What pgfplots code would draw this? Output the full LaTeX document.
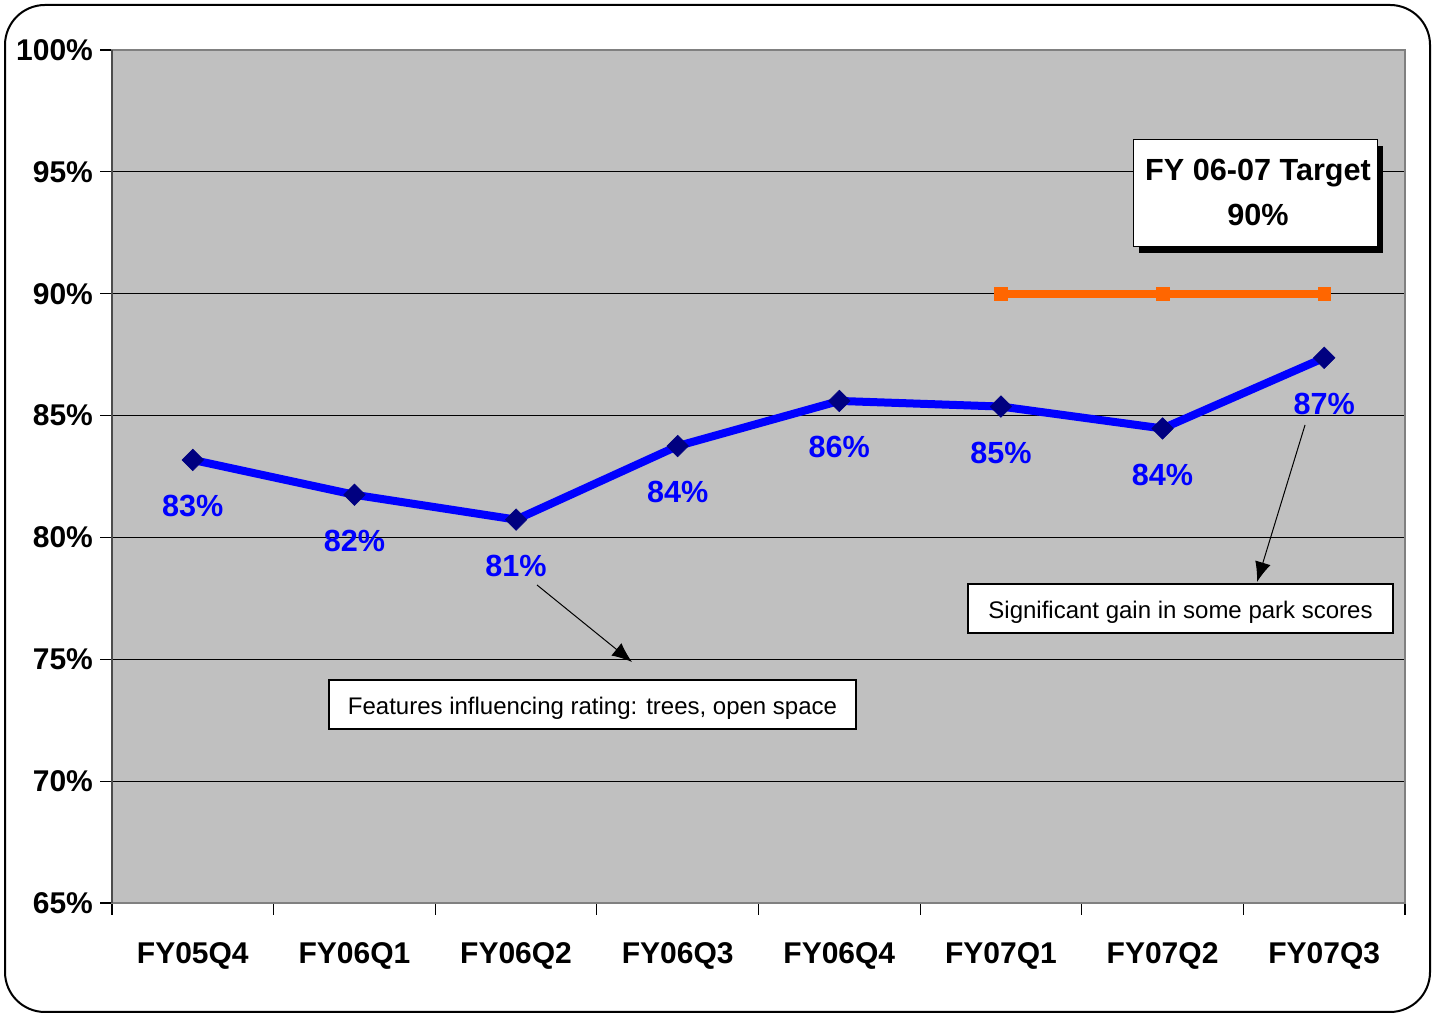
\documentclass[border=0pt]{standalone}
\usepackage{fontspec}
\setmainfont{Liberation Sans}
\usepackage{pgfplots}
\pgfplotsset{compat=1.18}
\usetikzlibrary{arrows.meta}
\definecolor{plotgray}{HTML}{C0C0C0}
\definecolor{serblue}{HTML}{0000FF}
\definecolor{navymark}{HTML}{000080}
\definecolor{targetorange}{HTML}{FF6600}

\begin{document}
\begin{tikzpicture}
\useasboundingbox (0,0) rectangle (716.5pt,507.5pt);
\draw[line width=1pt, rounded corners=20pt] (2.5pt,1.5pt) rectangle (715pt,505pt);
\begin{axis}[
  at={(56pt,56pt)}, anchor=south west,
  scale only axis, width=646.5pt, height=426.5pt,
  xmin=-0.5, xmax=7.5, ymin=65, ymax=100,
  xtick={-0.5,0.5,1.5,2.5,3.5,4.5,5.5,6.5,7.5},
  x tick label as interval,
  xticklabels={FY05Q4,FY06Q1,FY06Q2,FY06Q3,FY06Q4,FY07Q1,FY07Q2,FY07Q3},
  xticklabel style={yshift=-10pt},
  ytick={65,70,75,80,85,90,95,100},
  yticklabel={\pgfmathprintnumber{\tick}\%},
  ymajorgrids, grid style={black, line width=0.5pt},
  tick align=outside, tick pos=left, major tick length=6pt,
  tick style={black, line width=0.6pt},
  axis line style={draw=gray, line width=1pt},
  axis background/.style={fill=plotgray},
  ticklabel style={font=\bfseries\fontsize{15}{17}\selectfont},
  /pgf/number format/assume math mode=true,
  clip=false,
]
\draw[black!70, line width=1pt] (rel axis cs:0,0) -- (rel axis cs:0,1);
% target
\addplot[targetorange, line width=4pt, mark=square*, mark size=3.2pt,
  mark options={solid, line width=0.3pt}] coordinates {
  (5,90) (6,90) (7,90)
};
% rating
\addplot[serblue, line width=4pt, mark=square*, mark size=3.8pt,
  mark options={fill=navymark, draw=navymark, rotate=45, line width=0.3pt},
  nodes near coords, point meta=explicit symbolic,
  every node near coord/.append style={font=\bfseries\fontsize{15.3}{17}\selectfont,
    text=serblue, anchor=center, yshift=-23pt, rotate=0}] coordinates {
  (0,83.18) [83\%]
  (1,81.75) [82\%]
  (2,80.73) [81\%]
  (3,83.75) [84\%]
  (4,85.60) [86\%]
  (5,85.37) [85\%]
  (6,84.47) [84\%]
  (7,87.37) [87\%]
};
\end{axis}
% target box with shadow
\fill[black] (569.5pt,381pt) rectangle (691.5pt,434.5pt);
\draw[fill=white, line width=0.5pt] (566.5pt,384pt) rectangle (688.5pt,437.5pt);
\node[font=\bfseries\fontsize{15.3}{17}\selectfont] at (629pt,421pt) {FY 06-07 Target};
\node[font=\bfseries\fontsize{15.3}{17}\selectfont] at (629pt,400pt) {90\%};
% annotations
\draw[-{Latex[length=10pt,width=8pt]}, line width=0.5pt] (268.5pt,215pt) -- (316pt,176.5pt);
\draw[-{Latex[length=10pt,width=8pt]}, line width=0.5pt] (652.5pt,295pt) -- (628.5pt,216.5pt);
\draw[fill=white, line width=0.8pt] (164.5pt,143pt) rectangle (428pt,167.5pt);
\node[font=\fontsize{12}{14}\selectfont] at (296.25pt,153.5pt) {Features influencing rating: trees, open space};
\draw[fill=white, line width=0.8pt] (484pt,191pt) rectangle (696.5pt,215.5pt);
\node[font=\fontsize{12}{14}\selectfont] at (590.25pt,201.5pt) {Significant gain in some park scores};
\end{tikzpicture}
\end{document}
